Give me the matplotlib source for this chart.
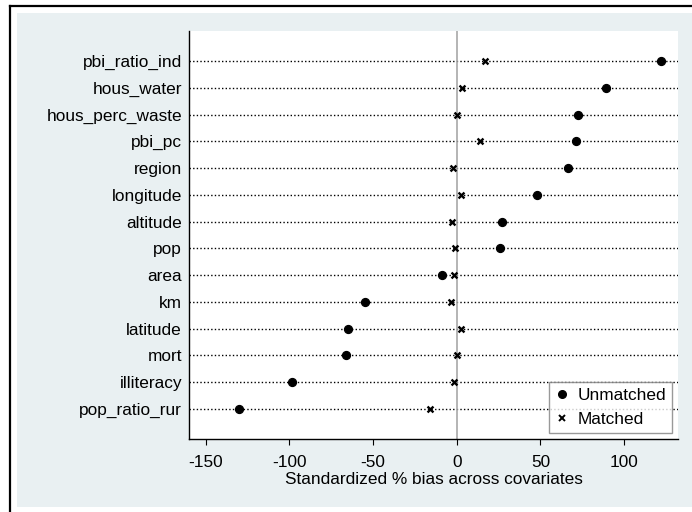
import matplotlib
matplotlib.use("Agg")
import matplotlib.pyplot as plt
from matplotlib.patches import Rectangle
from matplotlib.lines import Line2D

covariates = ["pbi_ratio_ind", "hous_water", "hous_perc_waste", "pbi_pc", "region",
              "longitude", "altitude", "pop", "area", "km", "latitude", "mort",
              "illiteracy", "pop_ratio_rur"]
unmatched = [121.9, 89.0, 72.3, 71.1, 66.7, 48.0, 27.1, 25.9, -8.8, -55.0, -64.7,
             -66.3, -98.4, -129.9]
matched = [16.9, 3.0, 0.2, 14.1, -2.2, 2.8, -2.6, -0.8, -1.4, -3.4, 2.8, 0.0,
           -1.4, -15.8]
xticks = [-150, -100, -50, 0, 50, 100]
xlabel = "Standardized % bias across covariates"
legend_labels = ["Unmatched", "Matched"]

plt.rcParams["font.family"] = ["Liberation Sans", "DejaVu Sans"]
FS = 12.4

W, H = 692, 512
fig = plt.figure(figsize=(W / 100, H / 100), dpi=100)
fig.patch.set_facecolor("white")

# background region and frame
bg = Rectangle((17 / W, 1 - 507 / H), (W - 17) / W, (507 - 13) / H,
               transform=fig.transFigure, facecolor="#E9F0F2", edgecolor="none", zorder=-10)
fig.add_artist(bg)
fig.add_artist(Line2D([10 / W, 10 / W], [0, 1 - 6 / H], transform=fig.transFigure,
                      color="black", lw=1.6, zorder=-5))
fig.add_artist(Line2D([10 / W, 1], [1 - 6 / H, 1 - 6 / H], transform=fig.transFigure,
                      color="black", lw=1.6, zorder=-5))

ax = fig.add_axes([189 / W, 1 - 439 / H, (678 - 189) / W, (439 - 31) / H])
ax.set_zorder(1)
ax.set_facecolor("white")

ypos = list(range(len(covariates)))
for y in ypos:
    ax.axhline(y, color="black", lw=1.0, linestyle=(0, (1, 1.6)), zorder=1)
ax.axvline(0, color="#a8a8a8", lw=1.2, zorder=2)

ax.scatter(unmatched, ypos, s=32, marker="o", color="black", zorder=3, label=legend_labels[0])
ax.scatter(matched, ypos, s=18, marker="x", color="black", linewidths=1.7, zorder=3,
           label=legend_labels[1])

ax.set_xlim(-160, 132.2)
ax.set_ylim(len(covariates) - 1 + 1.12, -1.12)
ax.set_yticks(ypos)
ax.set_yticklabels(covariates, fontsize=FS)
ax.set_xticks(xticks)
ax.set_xticklabels([str(t) for t in xticks], fontsize=FS)
ax.tick_params(axis="y", length=0, pad=5)
ax.tick_params(axis="x", length=4.3, width=0.8, pad=7, direction="out")
ax.set_xlabel(xlabel, fontsize=FS, labelpad=2)

for s in ["top", "right"]:
    ax.spines[s].set_visible(False)
for s in ["left", "bottom"]:
    ax.spines[s].set_linewidth(1.0)
    ax.spines[s].set_color("black")

handles = [Line2D([], [], marker="o", color="black", linestyle="none", markersize=5.5),
           Line2D([], [], marker="x", color="black", linestyle="none", markersize=4,
                  markeredgewidth=1.4)]
leg = ax.legend(handles, legend_labels, loc="lower right",
                bbox_to_anchor=(0.988, 0.0147), borderaxespad=0, fontsize=FS,
                frameon=True, fancybox=False, edgecolor="#808080", handlelength=0.8,
                handletextpad=0.5, borderpad=0.35, labelspacing=0.5)
leg.get_frame().set_linewidth(1.0)

fig.savefig("out.png", dpi=100, facecolor="white")
